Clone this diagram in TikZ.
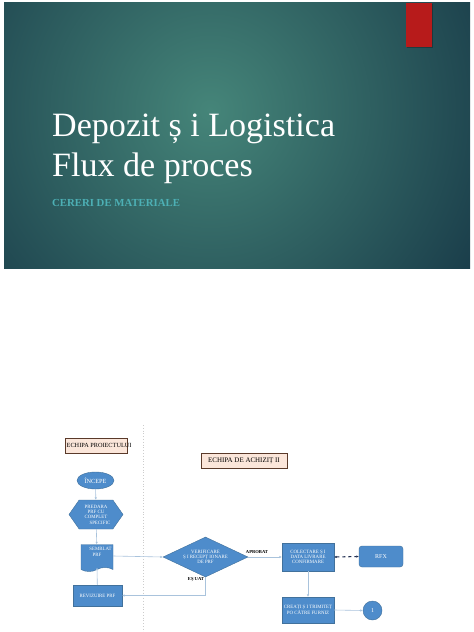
\documentclass[tikz,border=0pt]{standalone}
\usepackage{fontspec}
\setmainfont{Liberation Serif}
\usetikzlibrary{shapes.geometric,shapes.symbols,arrows.meta}
\definecolor{slidedark}{HTML}{183A48}
\definecolor{slidelight}{HTML}{458579}
\definecolor{redtab}{HTML}{B71B1B}
\definecolor{subcol}{HTML}{4DB0B5}
\definecolor{flowfill}{HTML}{4E8CCB}
\definecolor{flowdraw}{HTML}{41719C}
\definecolor{conn}{HTML}{A9C3DC}
\definecolor{peach}{HTML}{FBE6DA}
\definecolor{brownline}{HTML}{5A3A2A}
\definecolor{navy}{HTML}{1F2D50}
\tikzset{
  flow/.style={fill=flowfill,draw=flowdraw,line width=0.4bp,text=white,inner sep=0pt,
    font=\fontsize{4.9}{5.4}\selectfont,align=center},
  team/.style={fill=peach,draw=brownline,line width=0.5bp,inner sep=0pt},
  link/.style={draw=conn,line width=0.6bp,-{Latex[length=2.5bp,width=2.5bp]}},
  tiny/.style={font=\fontsize{4.6}{5}\selectfont\bfseries,inner sep=0pt}
}
\begin{document}
\begin{tikzpicture}[x=1bp,y=-1bp]
\useasboundingbox (0,0) rectangle (474,632);
\fill[white] (0,0) rectangle (474,632);
% slide
\begin{scope}
\clip (4,3) rectangle (470,268);
\fill[slidedark] (4,3) rectangle (470,268);
\shade[inner color=slidelight, outer color=slidedark] (210,110) circle (320);
\end{scope}
\fill[black,opacity=0.25] (407,4) rectangle (433,48);
\fill[redtab] (406,3) rectangle (432,47);
\node[anchor=base west,text=white,font=\fontsize{34.2}{40}\selectfont,inner sep=0pt] (t1) at (52,137) {Depozit ș i Logistica};
\node[anchor=base west,text=white,font=\fontsize{34.2}{40}\selectfont,inner sep=0pt] (t2) at (52,177) {Flux de proces};
\node[anchor=base west,text=subcol,font=\fontsize{10.8}{12}\selectfont\bfseries,inner sep=0pt] (t3) at (52,206) {CERERI DE MATERIALE};
% lanes
\draw[gray!40,dotted,line width=0.8bp] (143.5,425) -- (143.5,632);
\node[team,minimum width=62bp,minimum height=15bp] (pbox) at (96,445.5) {};
\node[anchor=west,inner sep=0pt,font=\fontsize{6.3}{7}\selectfont] (ptext) at (66.5,445.5) {ECHIPA PROIECTULUI};
\node[team,minimum width=86bp,minimum height=15bp,font=\fontsize{7}{8}\selectfont] (abox) at (244,460.5) {ECHIPA DE ACHIZIȚ II};
% shapes
\node[flow,ellipse,minimum width=37bp,minimum height=17bp,font=\fontsize{6.3}{7}\selectfont] (incepe) at (95.5,480.5) {ÎNCEPE};
\node[flow,signal,signal to=west and east,signal pointer angle=110,minimum width=54bp,minimum height=29bp] (hex) at (96,514.5) {PREDARA\\PRF CU\\COMPLET\\\hspace*{8bp}SPECIFIC};
\node[flow,tape,tape bend top=none,tape bend bottom=in and out,tape bend height=4bp,minimum width=32bp,minimum height=27bp] (semblat) at (97,556) {\hspace*{7bp}SEMBLAT\\PRF\\[3bp]};
\node[flow,rectangle,minimum width=49bp,minimum height=21bp] (reviz) at (97.5,595.5) {REVIZUIRE PRF};
\node[flow,diamond,minimum width=85bp,minimum height=40bp,aspect=2.1] (verif) at (205.5,557) {VERIFICARE\\Ș I RECEPȚ IONARE\\DE PRF};
\node[flow,rectangle,minimum width=52bp,minimum height=28bp] (colect) at (308,557) {COLECTARE Ș I\\DATA LIVRARE\\CONFIRMARE};
\node[flow,rectangle,rounded corners=3bp,minimum width=44bp,minimum height=21bp,font=\fontsize{6}{7}\selectfont] (rfx) at (381,556.5) {RFX};
\node[flow,rectangle,minimum width=52bp,minimum height=26bp] (creati) at (308,610) {CREAȚI Ș I TRIMITEȚ\\PO CĂTRE FURNIZ};
\node[flow,circle,minimum size=19bp,font=\fontsize{6}{7}\selectfont] (one) at (372.5,610.5) {1};
% connectors
\draw[link] (incepe) -- (hex);
\draw[link] (hex) -- (semblat);
\draw[link] (reviz) -- (semblat.south);
\draw[link] (semblat.east) -- (verif.west);
\draw[link] (verif.east) -- (colect.west);
\draw[link] (verif.south) |- (reviz.east);
\draw[navy,line width=1.1bp,dashed,{Latex[length=2.5bp,width=2.5bp]}-{Latex[length=2.5bp,width=2.5bp]}] (colect.east) -- (rfx.west);
\draw[link] (colect.south) -- (creati.north);
\draw[link] (creati.east) -- (one.west);
\node[tiny] (aprobat) at (257,551.5) {APROBAT};
\node[tiny] (esuat) at (196,580) {EȘ UAT};
\end{tikzpicture}
\end{document}
